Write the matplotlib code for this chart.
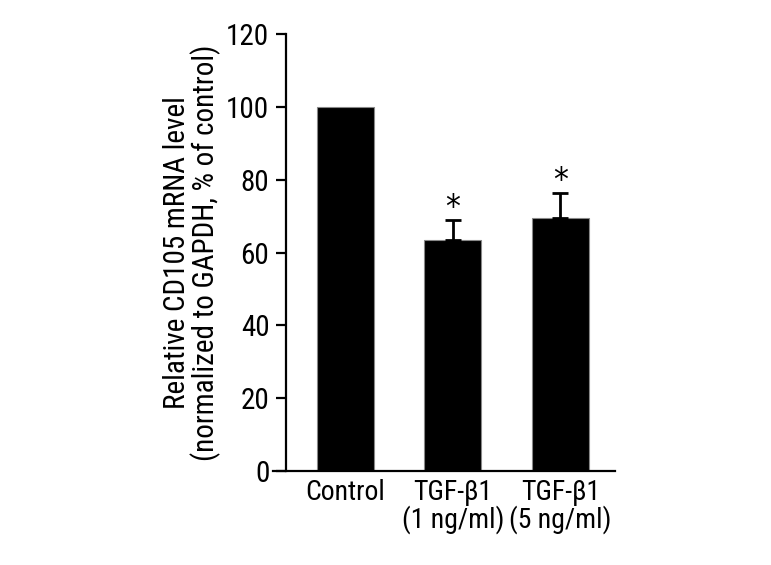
import matplotlib
matplotlib.use('Agg')
import matplotlib.pyplot as plt
from matplotlib import font_manager

groups = ['Control', 'TGF-β1\n(1 ng/ml)', 'TGF-β1\n(5 ng/ml)']
values = [100.0, 63.4, 69.6]
errors = [0.0, 5.4, 6.7]
signif = ['', '*', '*']

# pick a narrow font if one is installed, else condensed DejaVu
names = {f.name for f in font_manager.fontManager.ttflist}
fam = 'DejaVu Sans'
for cand in ['Liberation Sans Narrow', 'Roboto Condensed', 'Open Sans Condensed']:
    if cand in names:
        fam = cand
        break
plt.rcParams['font.family'] = [fam, 'DejaVu Sans']
plt.rcParams['font.stretch'] = 'condensed'
fs = 21

fig = plt.figure(figsize=(7.71, 5.65), dpi=100)
ax = fig.add_axes([273/771, 1-471/565, (615-273)/771, (471-34)/565])

x = list(range(len(groups)))
ax.bar(x, values, width=0.53, color='black', edgecolor='#888888', linewidth=0.8)
ax.errorbar(x[1:], values[1:], yerr=[[0]*2, errors[1:]], fmt='none',
            ecolor='black', elinewidth=2, capsize=6, capthick=2)
for i in x:
    if signif[i]:
        ax.text(i, values[i] + errors[i] + 7.8, signif[i], ha='center', va='top',
                fontsize=24, family='DejaVu Sans')

ax.set_xlim(-0.674, 2.507)
ax.set_ylim(0, 120)
ax.set_yticks([0, 20, 40, 60, 80, 100, 120])
ax.set_xticks(x)
ax.set_xticklabels(groups, fontsize=20, linespacing=0.95)
ax.tick_params(axis='x', length=0, pad=6)
ax.tick_params(axis='y', labelsize=fs, width=1.6, length=7, pad=5)
ax.spines['top'].set_visible(False)
ax.spines['right'].set_visible(False)
ax.spines['left'].set_position(('data', -0.553))
ax.spines['left'].set_linewidth(1.6)
ax.spines['bottom'].set_linewidth(1.6)
ax.set_ylabel('Relative CD105 mRNA level\n(normalized to GAPDH, % of control)',
              fontsize=fs, linespacing=0.95, labelpad=4)

fig.savefig('out.png', dpi=100)
